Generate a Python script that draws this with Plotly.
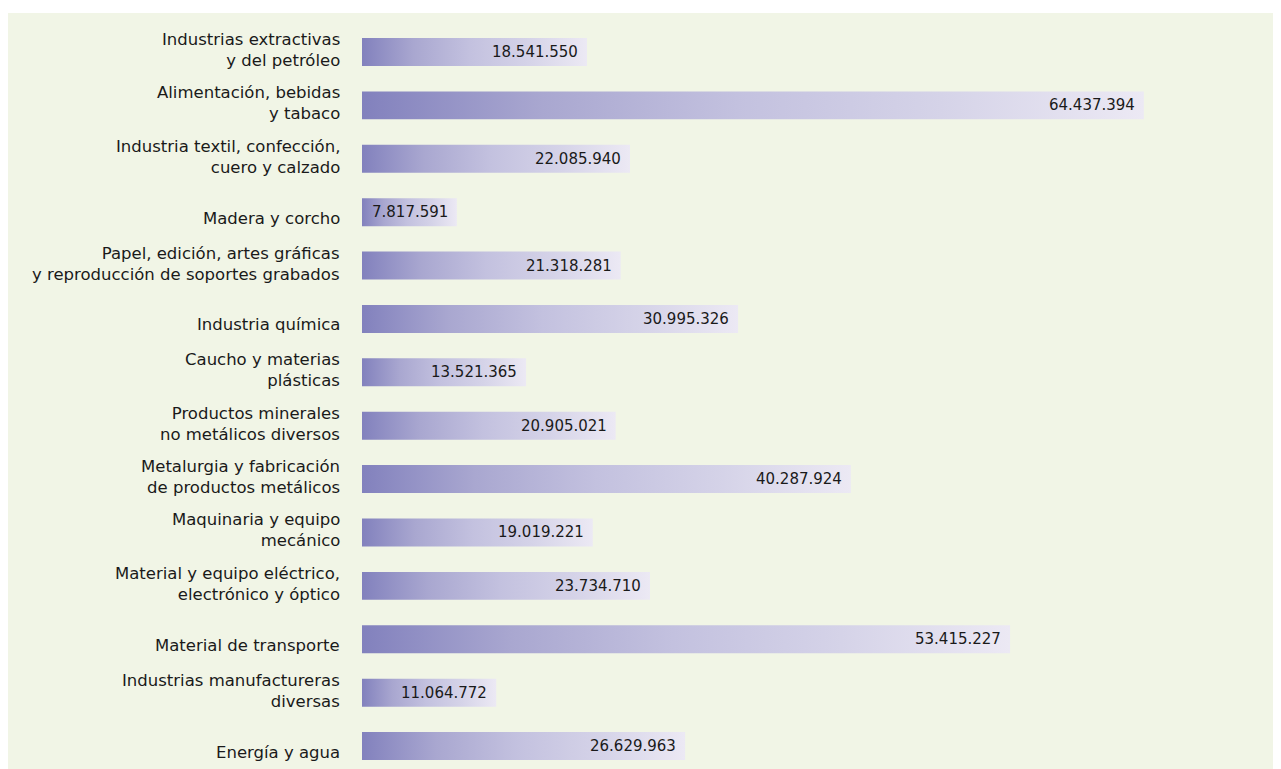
import plotly.graph_objects as go

sectors = [
    "Industrias extractivas<br>y del petróleo",
    "Alimentación, bebidas<br>y tabaco",
    "Industria textil, confección,<br>cuero y calzado",
    "Madera y corcho",
    "Papel, edición, artes gráficas<br>y reproducción de soportes grabados",
    "Industria química",
    "Caucho y materias<br>plásticas",
    "Productos minerales<br>no metálicos diversos",
    "Metalurgia y fabricación<br>de productos metálicos",
    "Maquinaria y equipo<br>mecánico",
    "Material y equipo eléctrico,<br>electrónico y óptico",
    "Material de transporte",
    "Industrias manufactureras<br>diversas",
    "Energía y agua",
]
values = [18541550, 64437394, 22085940, 7817591, 21318281, 30995326, 13521365,
          20905021, 40287924, 19019221, 23734710, 53415227, 11064772, 26629963]

BG = "#f1f5e6"
GRAD = [[0.0, "#8281bd"], [0.23, "#a9a7d0"], [0.48, "#c3c1df"],
        [0.74, "#d5d3e8"], [1.0, "#ece9f4"]]
FONT = "DejaVu Sans"
# page body adds an 8px margin, so the figure is sized to sit inside the window
W, H = 1273, 761
L, R, T, B = 354, 9, 5, 0
half = 0.262

fig = go.Figure()

# one filled polygon per bar so each gets its own left->right gradient
for i, v in enumerate(values):
    fig.add_trace(go.Scatter(
        x=[0, v, v, 0, 0], y=[i - half, i - half, i + half, i + half, i - half],
        mode="lines", line=dict(width=0), fill="toself",
        fillgradient=dict(type="horizontal", colorscale=GRAD),
        hoverinfo="skip", showlegend=False,
    ))

for i, (lab, v) in enumerate(zip(sectors, values)):
    fig.add_annotation(x=0, y=i, xref="x", yref="y", text=lab, showarrow=False,
                       xanchor="right", align="right", xshift=-20,
                       yshift=2 if "<br>" in lab else -6,
                       font=dict(family=FONT, size=16.5, color="#1a1a1a"))
    fig.add_annotation(x=v, y=i, xref="x", yref="y", text=f"{v:,}".replace(",", "."),
                       showarrow=False, xanchor="right", xshift=-7,
                       font=dict(family=FONT, size=15, color="#1a1a1a"))

pw = W - L - R
fig.add_shape(type="rect", xref="paper", yref="paper", layer="below",
              x0=-L / pw, x1=(W - L + 5) / pw, y0=-0.01, y1=1,
              fillcolor=BG, line=dict(width=0))

fig.update_layout(
    width=W, height=H, margin=dict(l=L, r=R, t=T, b=B),
    paper_bgcolor="white", plot_bgcolor="rgba(0,0,0,0)",
    xaxis=dict(range=[0, 75_000_000], visible=False),
    yaxis=dict(range=[13.43, -0.73], visible=False),
    showlegend=False,
)

fig.write_html("out.html")
